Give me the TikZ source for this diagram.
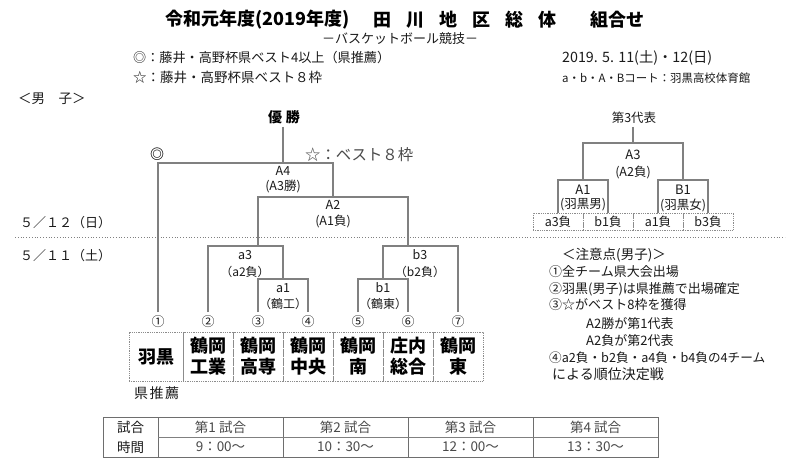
\documentclass[tikz,border=0pt]{standalone}
\usepackage{graphicx}
\usepackage{fontspec}
\setmainfont{Noto Sans CJK JP}
\definecolor{txt}{HTML}{1A1A1A}
\definecolor{lineg}{HTML}{808080}
\definecolor{boxg}{HTML}{8C8C8C}
\definecolor{tblg}{HTML}{6E6E6E}
\definecolor{soft}{HTML}{4A4A4A}
\begin{document}
\begin{tikzpicture}[x=1pt,y=-1pt,
  ln/.style={draw=lineg, line width=1.1pt},
  tx/.style={inner sep=0pt, text=txt, font=\fontsize{13}{15}\selectfont},
  lb/.style={inner sep=0pt, text=txt, font=\fontsize{12.5}{14}\selectfont},
  ttl/.style={inner sep=0pt, text=black, font=\bfseries\fontsize{18}{20}\selectfont},
  team/.style={draw=boxg, densely dotted, line width=0.8pt, minimum height=49pt, minimum width=50pt, inner sep=0pt, align=center, text=black, font=\bfseries\fontsize{18}{21}\selectfont},
  lose/.style={draw=boxg, densely dotted, line width=0.8pt, minimum height=17pt, minimum width=50pt, inner sep=0pt, text=txt, font=\fontsize{12.5}{14}\selectfont},
  cell/.style={inner sep=0pt, text=soft, font=\fontsize{13.5}{15}\selectfont}
]
\useasboundingbox (0,0) rectangle (800,473);
\fill[white] (0,0) rectangle (800,473);

% ---- title ----
\node[ttl, anchor=west] (t1) at (165,20) {令和元年度(2019年度)};
\node[ttl] (t2) at (382,20) {田};
\node[ttl] (t3) at (415,20) {川};
\node[ttl] (t4) at (448,20) {地};
\node[ttl] (t5) at (481,20) {区};
\node[ttl] (t6) at (514,20) {総};
\node[ttl] (t7) at (547,20) {体};
\node[ttl, anchor=west] (t8) at (590,20) {組合せ};
\node[tx, anchor=west] (sub) at (322,39) {－バスケットボール競技－};

\node[tx, anchor=west] (leg1) at (133,58) {\resizebox{257pt}{!}{◎：藤井・高野杯県ベスト4以上（県推薦）}};
\node[tx, anchor=west] (leg2) at (133,77) {\resizebox{189pt}{!}{☆：藤井・高野杯県ベスト８枠}};
\node[tx, anchor=west] (date) at (562,58) {\resizebox{150pt}{!}{2019. 5. 11(土)・12(日)}};
\node[tx, anchor=west] (court) at (562,78) {\resizebox{188pt}{!}{a・b・A・Bコート：羽黒高校体育館}};
\node[tx, anchor=west, font=\fontsize{13.5}{15}\selectfont] (boys) at (18,99) {＜男　子＞};
\node[tx, anchor=west] (d12) at (20,223) {５／１２（日）};
\node[tx, anchor=west] (d11) at (20,256) {５／１１（土）};

% dotted day separator
\coordinate (sepL) at (15,237);
\coordinate (sepR) at (785,237);
\draw[lineg, dotted, line width=0.8pt] (sepL) -- (sepR);

% ---- main bracket ----
\node[inner sep=0pt, text=black, font=\bfseries\fontsize{14}{16}\selectfont] (win) at (284,117) {優\hspace{4pt}勝};
\node[inner sep=0pt, text=black, font=\bfseries\fontsize{14}{16}\selectfont] (dmark) at (157,154) {◎};
\node[inner sep=0pt, text=soft, font=\fontsize{14.5}{16}\selectfont, anchor=west] (star) at (305,155) {\resizebox{108pt}{!}{☆：ベスト８枠}};

\coordinate (wtop) at (283,127);
\coordinate (A4c) at (283,163);
\coordinate (A4l) at (158,163);
\coordinate (A4r) at (333,163);
\coordinate (A2t) at (333,197);
\coordinate (A2l) at (258,197);
\coordinate (A2r) at (408,197);
\coordinate (a3j) at (258,246);
\coordinate (a3l) at (208,246);
\coordinate (a3r) at (283,246);
\coordinate (b3j) at (408,246);
\coordinate (b3l) at (383,246);
\coordinate (b3r) at (458,246);
\coordinate (a1t) at (283,279);
\coordinate (a1l) at (258,279);
\coordinate (a1r) at (308,279);
\coordinate (b1t) at (383,279);
\coordinate (b1l) at (358,279);
\coordinate (b1r) at (408,279);
\coordinate (p1) at (158,312);
\coordinate (p2) at (208,312);
\coordinate (p3) at (258,312);
\coordinate (p4) at (308,312);
\coordinate (p5) at (358,312);
\coordinate (p6) at (408,312);
\coordinate (p7) at (458,312);

\draw[ln] (wtop) -- (A4c);
\draw[ln] (p1) -- (A4l) -- (A4r) -- (A2t);
\draw[ln] (a3j) -- (A2l) -- (A2r) -- (b3j);
\draw[ln] (p2) -- (a3l) -- (a3r) -- (a1t);
\draw[ln] (p7) -- (b3r) -- (b3l) -- (b1t);
\draw[ln] (p3) -- (a1l) -- (a1r) -- (p4);
\draw[ln] (p5) -- (b1l) -- (b1r) -- (p6);

\node[lb] (A4) at (283,171) {A4};
\node[lb] (A4s) at (283,186) {(A3勝)};
\node[lb] (A2) at (333,205) {A2};
\node[lb] (A2s) at (333,221) {(A1負)};
\node[lb] (a3) at (245,255) {a3};
\node[lb, font=\fontsize{12}{14}\selectfont] (a3s) at (245,272) {（a2負）};
\node[lb] (b3) at (420,255) {b3};
\node[lb, font=\fontsize{12}{14}\selectfont] (b3s) at (420,272) {（b2負）};
\node[lb] (a1) at (283,288) {a1};
\node[lb, font=\fontsize{12}{14}\selectfont] (a1s) at (283,304) {（鶴工）};
\node[lb] (b1) at (383,288) {b1};
\node[lb, font=\fontsize{12}{14}\selectfont] (b1s) at (383,304) {（鶴東）};

\foreach \i/\x in {1/158,2/208,3/258,4/308,5/358,6/408,7/458}{
  \node[tx, font=\fontsize{13}{15}\selectfont] (n\i) at (\x,322) {\ifcase\i\or ①\or ②\or ③\or ④\or ⑤\or ⑥\or ⑦\fi};
}

\node[team, minimum width=54pt] (tm1) at (156,356.5) {羽黒};
\node[team] (tm2) at (208,356.5) {鶴岡\\工業};
\node[team] (tm3) at (258,356.5) {鶴岡\\高専};
\node[team] (tm4) at (308,356.5) {鶴岡\\中央};
\node[team] (tm5) at (358,356.5) {鶴岡\\南};
\node[team] (tm6) at (408,356.5) {庄内\\総合};
\node[team] (tm7) at (458,356.5) {鶴岡\\東};
\node[tx, font=\fontsize{14}{16}\selectfont, anchor=west] (rec) at (134,393) {県\hspace{1.5pt}推\hspace{1.5pt}薦};

% ---- third-place bracket ----
\node[tx, font=\fontsize{12.5}{14}\selectfont] (third) at (634,118) {第3代表};
\coordinate (w3) at (633,127);
\coordinate (A3c) at (633,143);
\coordinate (A3l) at (583,143);
\coordinate (A3r) at (683,143);
\coordinate (A1c) at (583,180);
\coordinate (A1l) at (558,180);
\coordinate (A1r) at (608,180);
\coordinate (B1c) at (683,180);
\coordinate (B1l) at (658,180);
\coordinate (B1r) at (708,180);
\coordinate (A1lb) at (558,213);
\coordinate (A1rb) at (608,213);
\coordinate (B1lb) at (658,213);
\coordinate (B1rb) at (708,213);
\draw[ln] (w3) -- (A3c);
\draw[ln] (A1c) -- (A3l) -- (A3r) -- (B1c);
\draw[ln] (A1lb) -- (A1l) -- (A1r) -- (A1rb);
\draw[ln] (B1lb) -- (B1l) -- (B1r) -- (B1rb);
\node[lb, font=\fontsize{13}{15}\selectfont] (A3) at (633,155) {A3};
\node[lb] (A3s) at (633,172) {(A2負)};
\node[lb, font=\fontsize{13}{15}\selectfont] (A1) at (583,190) {A1};
\node[lb] (A1s) at (583,205) {(羽黒男)};
\node[lb, font=\fontsize{13}{15}\selectfont] (B1) at (683,190) {B1};
\node[lb] (B1s) at (683,205) {(羽黒女)};
\node[lose] (l1) at (558,221.5) {a3負};
\node[lose] (l2) at (608,221.5) {b1負};
\node[lose] (l3) at (658,221.5) {a1負};
\node[lose] (l4) at (708,221.5) {b3負};

% ---- notes ----
\node[tx, anchor=west, font=\fontsize{13.5}{15}\selectfont] (nt0) at (562,255) {＜注意点(男子)＞};
\node[tx, anchor=west] (nt1) at (549,272) {①全チーム県大会出場};
\node[tx, anchor=west] (nt2) at (549,289) {②羽黒(男子)は県推薦で出場確定};
\node[tx, anchor=west] (nt3) at (549,305) {③☆がベスト8枠を獲得};
\node[tx, anchor=west] (nt4) at (586,324) {A2勝が第1代表};
\node[tx, anchor=west] (nt5) at (586,341) {A2負が第2代表};
\node[tx, anchor=west] (nt6) at (549,358) {\resizebox{216pt}{!}{④a2負・b2負・a4負・b4負の4チーム}};
\node[tx, anchor=west, font=\fontsize{14}{16}\selectfont] (nt7) at (552,374) {による順位決定戦};

% ---- time table ----
\draw[tblg, line width=1pt] (103,417) rectangle (658,457);
\foreach \x in {158,283,408,533}{ \draw[tblg, line width=0.9pt] (\x,417) -- (\x,457); }
\draw[lineg, line width=0.7pt] (158,437) -- (658,437);
\node[cell, text=txt] (h1) at (130.5,427) {試合};
\node[cell, text=txt] (h2) at (130.5,447) {時間};
\node[cell] (g1) at (220.5,427) {第1 試合};
\node[cell] (g2) at (345.5,427) {第2 試合};
\node[cell] (g3) at (470.5,427) {第3 試合};
\node[cell] (g4) at (595.5,427) {第4 試合};
\node[cell] (s1) at (220.5,447) {9：00～};
\node[cell] (s2) at (345.5,447) {10：30～};
\node[cell] (s3) at (470.5,447) {12：00～};
\node[cell] (s4) at (595.5,447) {13：30～};
\end{tikzpicture}
\end{document}
